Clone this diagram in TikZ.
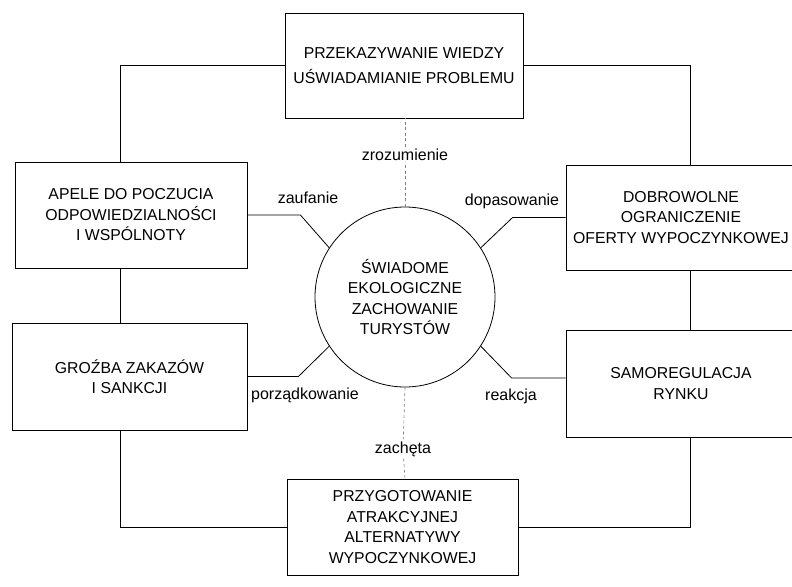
\documentclass[tikz,border=0pt]{standalone}
\usepackage{fontspec}
\setmainfont{Liberation Sans}
\begin{document}
\begin{tikzpicture}[x=1pt,y=-1pt,
  box/.style={draw, line width=0.8pt, rectangle, align=center, inner sep=0pt, font=\fontsize{15.8}{20.5}\selectfont},
  lab/.style={font=\fontsize{16}{18}\selectfont, inner sep=2pt},
  conn/.style={line width=0.8pt},
  axisline/.style={line width=0.6pt, gray, dash pattern=on 3pt off 2.5pt}]
\clip (0,0) rectangle (792,586);
\fill[white] (0,0) rectangle (792,586);
% boxes
\node[box, minimum width=238, minimum height=105, font=\fontsize{15.8}{25}\selectfont] (top) at (404,65.5) {PRZEKAZYWANIE WIEDZY\\UŚWIADAMIANIE PROBLEMU};
\node[box, minimum width=232, minimum height=106] (apele) at (131,215) {APELE DO POCZUCIA\\ODPOWIEDZIALNOŚCI\\I WSPÓLNOTY};
\node[box, minimum width=230, minimum height=105] (dobro) at (681,217.5) {DOBROWOLNE\\OGRANICZENIE\\OFERTY WYPOCZYNKOWEJ};
\node[box, minimum width=235, minimum height=107] (grozba) at (129.5,376.5) {GROŹBA ZAKAZÓW\\I SANKCJI};
\node[box, minimum width=230, minimum height=107] (samo) at (681,383.5) {SAMOREGULACJA\\RYNKU};
\node[box, minimum width=231, minimum height=96] (bottom) at (402.5,527) {PRZYGOTOWANIE\\ATRAKCYJNEJ\\ALTERNATYWY\\WYPOCZYNKOWEJ};
\node[draw, circle, line width=0.8pt, minimum size=180, inner sep=0pt, align=center, font=\fontsize{15.8}{20.5}\selectfont] (c) at (405,297) {ŚWIADOME\\EKOLOGICZNE\\ZACHOWANIE\\TURYSTÓW};
% outer frame connectors
\coordinate (lx) at (120,0);
\coordinate (rx) at (690,0);
\draw[conn] (top.west) -| (apele.north -| lx);
\draw[conn] (apele.south -| lx) -- (grozba.north -| lx);
\draw[conn] (bottom.west) -| (grozba.south -| lx);
\draw[conn] (top.east) -| (dobro.north -| rx);
\draw[conn] (dobro.south -| rx) -- (samo.north -| rx);
\draw[conn] (bottom.east) -| (samo.south -| rx);
% diagonal connectors
\draw[conn] (apele.east) -- ++(53,0) -- (c.147);
\draw[conn] (grozba.east) -- ++(51,0) -- (c.213);
\draw[conn] (dobro.west) -- ++(-53,0) -- (c.33);
\draw[conn] ([yshift=5.5pt]samo.west) -- ++(-54,0) -- (c.-33);
% labels
\node[lab] (zauf) at (308,198) {zaufanie};
\node[lab] (porz) at (305,395) {porządkowanie};
\node[lab] (dopa) at (512,201) {dopasowanie};
\node[lab] (reak) at (511,396) {reakcja};
\node[lab] (zroz) at (405,155) {zrozumienie};
\node[lab] (zach) at (403,449) {zachęta};
% vertical axis lines
\draw[axisline] (c.north) -- (zroz);
\draw[axisline] (zroz) -- (c.north |- top.south);
\draw[axisline] (c.south) -- (zach);
\draw[axisline] (zach) -- (c.south |- bottom.north);
\end{tikzpicture}
\end{document}
